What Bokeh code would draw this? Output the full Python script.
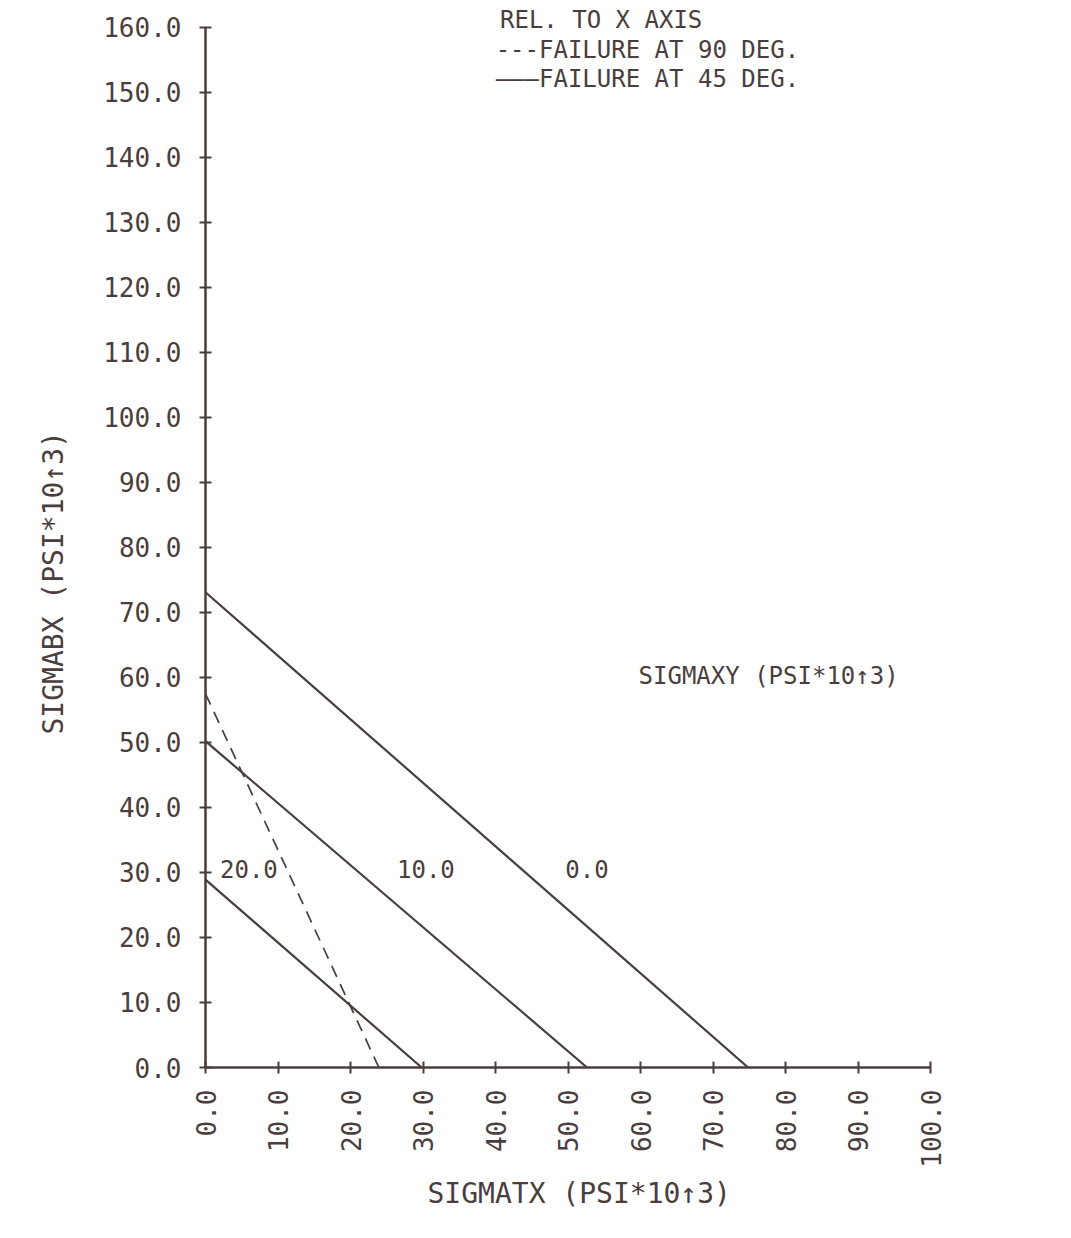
import math

from bokeh.core.properties import value
from bokeh.embed import file_html
from bokeh.models import (ColumnDataSource, FixedTicker, PrintfTickFormatter,
                          Range1d, Title)
from bokeh.plotting import figure
from bokeh.resources import INLINE

# Shear stress levels (ksi) for each 45-degree failure envelope
sigma_xy = [0.0, 10.0, 20.0]
# Intercepts of each envelope on the SIGMABX and SIGMATX axes
sigma_bx_at_zero_tx = [73.1, 50.2, 28.9]
sigma_tx_at_zero_bx = [74.8, 52.6, 29.8]

# Failure at 90 degrees (dashed envelope) end points
fail90_tx = [0.0, 23.9]
fail90_bx = [57.5, 0.0]

# Axis ticks
x_ticks = [0, 10, 20, 30, 40, 50, 60, 70, 80, 90, 100]
y_ticks = [0, 10, 20, 30, 40, 50, 60, 70, 80, 90, 100, 110, 120, 130, 140, 150, 160]

INK = "#4a3d3d"
FONT = "DejaVu Sans Mono"

# The frame reaches the right and top edges of the page so the key and the
# SIGMAXY caption can sit inside it; the axes themselves stop at 100 and 160.
p = figure(
    width=1071, height=1238,
    x_range=Range1d(0, 119.38), y_range=Range1d(0, 164.15),
    output_backend="svg", toolbar_location=None, title=None,
    min_border_left=205, min_border_right=0,
    min_border_top=0, min_border_bottom=171,
)
p.outline_line_color = None
p.xgrid.visible = False
p.ygrid.visible = False
p.background_fill_color = "white"
p.border_fill_color = "white"

for ax, ticks in ((p.xaxis[0], x_ticks), (p.yaxis[0], y_ticks)):
    ax.ticker = FixedTicker(ticks=ticks)
    ax.bounds = (ticks[0], ticks[-1])
    ax.formatter = PrintfTickFormatter(format="%.1f")
    ax.minor_tick_line_color = None
    ax.axis_line_color = INK
    ax.axis_line_width = 2.5
    ax.major_tick_line_color = INK
    ax.major_tick_line_width = 2
    ax.major_tick_in = 6
    ax.major_tick_out = 6
    ax.major_label_text_font = FONT
    ax.major_label_text_font_size = "26px"
    ax.major_label_text_color = INK

p.xaxis.major_label_orientation = math.pi / 2
p.xaxis.major_label_standoff = 16
p.yaxis.major_label_standoff = 18

# Axis titles, centred on the drawn part of each axis
p.add_layout(Title(text="SIGMATX (PSI*10↑3)", align="left", offset=222,
                   standoff=8, text_font=FONT, text_font_size="28px",
                   text_font_style="normal", text_color=INK), "below")
p.add_layout(Title(text="SIGMABX (PSI*10↑3)", align="left", offset=333,
                   standoff=62, text_font=FONT, text_font_size="28px",
                   text_font_style="normal", text_color=INK), "left")

# 45-degree failure envelopes, one per shear stress level
for bx0, tx0 in zip(sigma_bx_at_zero_tx, sigma_tx_at_zero_bx):
    p.line([0.0, tx0], [bx0, 0.0], line_color=INK, line_width=2.2)

# 90-degree failure envelope
p.line(fail90_tx, fail90_bx, line_color=INK, line_width=1.7, line_dash="12 8")

# Shear stress level labels beside the envelopes
label_x = [49.6, 26.4, 2.0]
label_y = [30.5, 30.5, 30.5]
src = ColumnDataSource(dict(
    x=label_x, y=label_y, t=[f"{v:.1f}" for v in sigma_xy],
))
p.text("x", "y", text="t", source=src, text_font=value(FONT),
       text_font_size="24px", text_color=INK,
       text_align="left", text_baseline="middle")

# Caption for the envelope labels and the key in the upper right
notes = ColumnDataSource(dict(
    x=[59.7, 40.6, 40.0, 40.0],
    y=[60.3, 161.1, 156.5, 152.0],
    t=["SIGMAXY (PSI*10↑3)", "REL. TO X AXIS",
       "---FAILURE AT 90 DEG.", "———FAILURE AT 45 DEG."],
))
p.text("x", "y", text="t", source=notes, text_font=value(FONT),
       text_font_size="24px", text_color=INK,
       text_align="left", text_baseline="middle")

open("out.html", "w").write(file_html(p, INLINE))
